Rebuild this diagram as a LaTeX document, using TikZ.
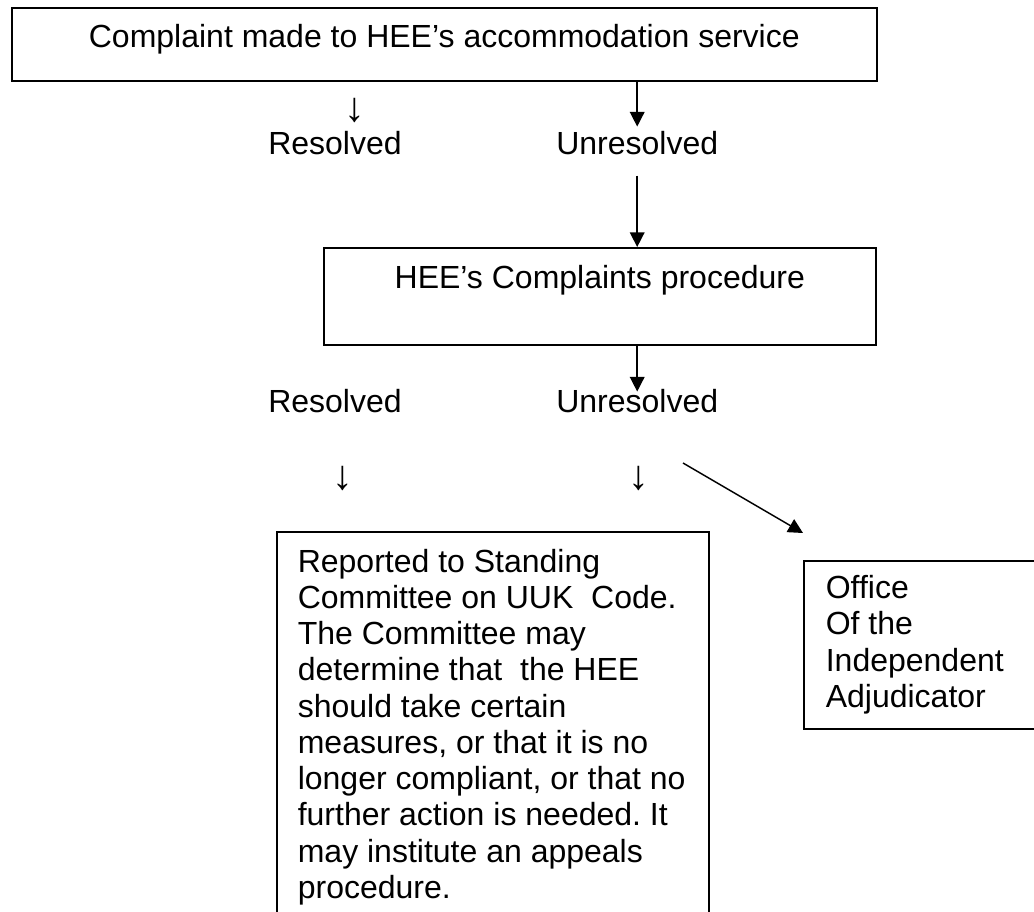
\documentclass[tikz,border=0pt]{standalone}
\usepackage{fontspec}
\setmainfont{Liberation Sans}
\usetikzlibrary{arrows.meta}

\begin{document}
\begin{tikzpicture}
[x=0.75pt,y=-0.75pt,
  every node/.style={font=\fontsize{24pt}{27.2pt}\selectfont\frenchspacing},
  boxDecorate/.style={shape=rectangle,draw,line width=1.2pt,anchor=north west},
  labelDecorate/.style={inner sep=0pt,anchor=base west},
  glyphDecorate/.style={inner sep=0pt,font=\fontsize{31pt}{31pt}\selectfont},
  arrowDecorate/.style={-{Triangle[length=11pt,width=11pt]},line width=1.1pt}]
\useasboundingbox (0,0) rectangle (1034,911);
\clip (0,0) rectangle (1034,911);
%% boxes
\node (complaint) at (11,7) [boxDecorate,inner sep=0pt,minimum width=648.75pt,
  text height=30pt,text depth=24.75pt] {Complaint made to HEE’s accommodation service};
\node (procedure) at (323,247) [boxDecorate,inner sep=0pt,minimum width=414pt,
  text height=30.75pt,text depth=42pt] {HEE’s Complaints procedure};
\node (standing) at (276,531) [boxDecorate,inner xsep=15.75pt,inner ysep=12.75pt,
  text width=292.5pt,align=flush left] {Reported to Standing\\
  Committee on UUK\ \ Code.\\
  The Committee may\\
  determine that\ \ the HEE\\
  should take certain\\
  measures, or that it is no\\
  longer compliant, or that no\\
  further action is needed. It\\
  may institute an appeals\\
  procedure.};
\node (oia) at (803,560) [boxDecorate,inner xsep=16.5pt,inner ysep=0pt,
  minimum height=126pt,text width=160pt,align=flush left] {Office\\Of the\\Independent\\Adjudicator};
%% outcomes
\foreach \nodename/\x/\y/\labeltext in {res1/268/154/Resolved, unres1/556/154/Unresolved,
  res2/268/412/Resolved, unres2/556/412/Unresolved} {
  \node (\nodename) at (\x,\y) [labelDecorate] {\labeltext};
}
\foreach \nodename/\x/\y in {down1/355/110, down2/343/478.5, down3/639/478.5} {
  \node (\nodename) at (\x,\y) [glyphDecorate] {↓};
}
%% arrows
\draw[arrowDecorate,shorten >=3pt] (complaint.south -| unres1.north) -- (unres1.north);
\draw[arrowDecorate,shorten <=15.75pt] (unres1.south) -- (unres1.south |- procedure.north);
\draw[arrowDecorate,shorten >=-2.25pt] (procedure.south -| unres2.north) -- (unres2.north);
\coordinate (diagFrom) at (683,463);
\coordinate (diagTo) at (803,533);
\draw[arrowDecorate] (diagFrom) -- (diagTo);
\end{tikzpicture}
\end{document}
